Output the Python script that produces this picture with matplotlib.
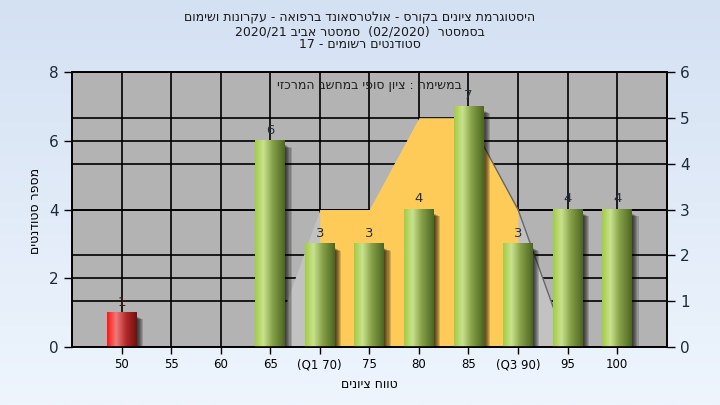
import numpy as np
import matplotlib
matplotlib.use('Agg')
from matplotlib import pyplot as plt
from matplotlib.colors import LinearSegmentedColormap
from matplotlib.patches import Rectangle


# Hebrew is drawn in visual (left to right) order
def rtl(s):
	return s[::-1]


# Data
categories = ['50', '55', '60', '65', '(Q1 70)', '75', '80', '85', '(Q3 90)', '95', '100']
counts = [1, 0, 0, 6, 3, 3, 4, 7, 3, 4, 4]
failed = [True] + [False] * 10

# background distribution polygon (right axis)
curve_idx = [3, 4, 5, 6, 7, 8, 9]
curve_vals = [0, 3, 3, 5, 5, 3, 0]
q1_idx, q3_idx = 4, 8

title_lines = [
	rtl("היסטוגרמת ציונים בקורס - אולטרסאונד ברפואה - עקרונות ושימום"),
	"2020/21 " + rtl("סמסטר אביב") + "  (02/2020)  " + rtl("בסמסטר"),
	"17 - " + rtl("סטודנטים רשומים"),
]
note_text = rtl("במשימה : ציון סופי במחשב המרכזי")
x_label = rtl("טווח ציונים")
y_label = rtl("מספר סטודנטים")

left_max, right_max = 8, 6


fig = plt.figure(figsize=(7.2, 4.05), dpi=100)

# figure background gradient
bg = fig.add_axes([0, 0, 1, 1], zorder=-10)
grad = np.linspace(0, 1, 256).reshape(-1, 1)
bg_cmap = LinearSegmentedColormap.from_list('bg', ['#d4e1f3', '#eef5fd'])
bg.imshow(grad, aspect='auto', cmap=bg_cmap, extent=(0, 1, 0, 1), origin='upper')
bg.set_axis_off()

ax = fig.add_axes([0.1, 0.143, 0.826, 0.679])
ax.set_facecolor('#b3b3b3')
ax2 = ax.twinx()

scale = left_max / right_max

# grid lines (below everything)
for v in range(0, left_max + 1, 2):
	ax.axhline(v, color='black', lw=1.2, zorder=0.5)
for v in range(1, right_max + 1):
	ax.axhline(v * scale, color='black', lw=1.2, zorder=0.5)
for i in range(len(categories)):
	ax.axvline(i, color='black', lw=1.2, zorder=0.5)

# distribution area
cx = np.array(curve_idx, dtype=float)
cy = np.array(curve_vals, dtype=float) * scale
ax.fill_between(cx, 0, cy, color='#c2c2c2', lw=0, zorder=1)
mask = (cx >= q1_idx) & (cx <= q3_idx)
ax.fill_between(cx[mask], 0, cy[mask], color='#fecb58', lw=0, zorder=1.2)
ax.plot(cx[-3:], cy[-3:], color='#666666', lw=1.0, zorder=1.3)

# bars with cylinder-like gradient and soft shadow
green = LinearSegmentedColormap.from_list('g', [(0, '#a2cc44'), (0.28, '#c8e28e'), (0.6, '#86a048'), (1, '#4c6622')])
red = LinearSegmentedColormap.from_list('r', [(0, '#ff1414'), (0.3, '#f07a7a'), (0.65, '#b02828'), (1, '#701010')])
bar_w = 0.6
hgrad = np.linspace(0, 1, 128).reshape(1, -1)
for i, (h, bad) in enumerate(zip(counts, failed)):
	if h <= 0:
		continue
	x0 = i - bar_w / 2
	# shadow
	for k in range(6):
		off = 0.022 * (k + 1)
		ax.add_patch(Rectangle((x0 + bar_w, 0), off, h - 0.12 - 0.015 * k,
							facecolor='black', alpha=0.16, lw=0, zorder=2))
	ax.imshow(hgrad, aspect='auto', cmap=red if bad else green,
			extent=(x0, x0 + bar_w, 0, h), zorder=3)
	ax.text(i, h + 0.12, str(h), ha='center', va='bottom', fontsize=9.5,
			color='#4a1414' if bad else '#25303a', zorder=5)

ax.text(0.5, 0.95, note_text, transform=ax.transAxes, ha='center', va='center',
		fontsize=9, color='#202020', zorder=5)

ax.set_xlim(-1, len(categories))
ax.set_ylim(0, left_max)
ax2.set_ylim(0, right_max)

ax.set_xticks(range(len(categories)))
ax.set_xticklabels(categories, fontsize=8.5)
ax.set_yticks(range(0, left_max + 1, 2))
ax.tick_params(axis='y', labelsize=11, length=6, width=1, colors='black', labelcolor='#1c2a3a')
ax.tick_params(axis='x', length=5, width=1, pad=3)
ax2.set_yticks(range(0, right_max + 1))
ax2.tick_params(axis='y', labelsize=11, length=6, width=1, labelcolor='#1c2a3a')

for a in (ax, ax2):
	for s in a.spines.values():
		s.set_color('black')
		s.set_linewidth(1.2)

ax.set_xlabel(x_label, fontsize=9, labelpad=5)
fig.text(0.049, 0.48, y_label, rotation=90, ha='center', va='center', fontsize=9)

for line, y in zip(title_lines, [0.955, 0.922, 0.889]):
	fig.text(0.5, y, line, ha='center', va='center', fontsize=9, color='#1a1a1a')

fig.savefig('out.png', dpi=100)
